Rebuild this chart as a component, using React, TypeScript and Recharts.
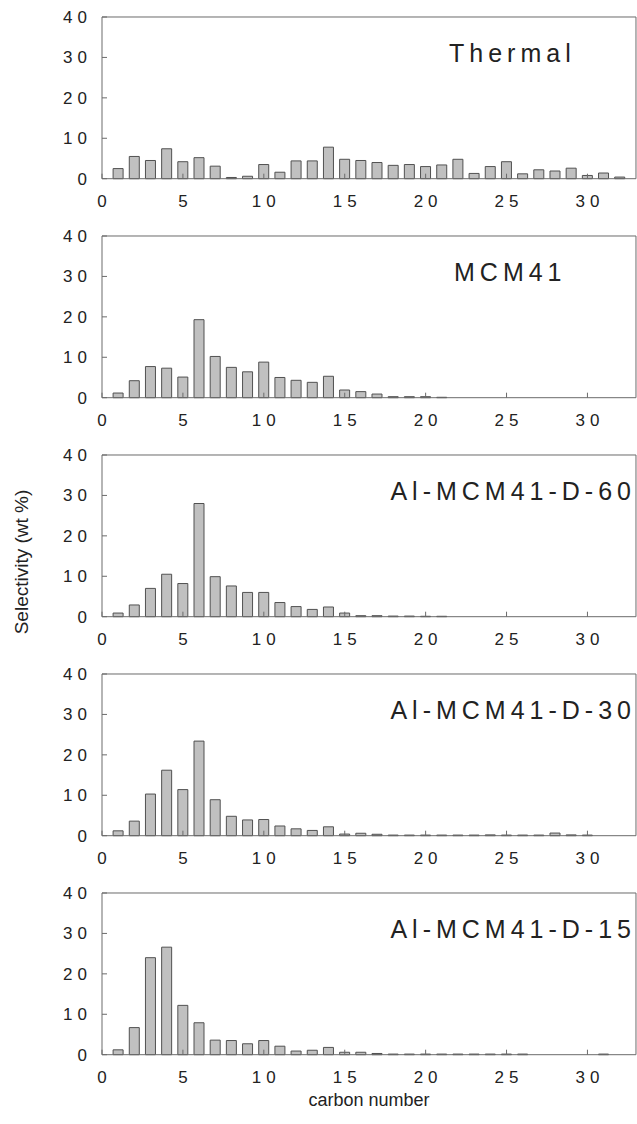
import React from 'react';
import { BarChart, Bar, XAxis, YAxis } from 'recharts';

const carbonNumbers = [1, 2, 3, 4, 5, 6, 7, 8, 9, 10, 11, 12, 13, 14, 15, 16, 17, 18, 19, 20, 21, 22, 23, 24, 25, 26, 27, 28, 29, 30, 31, 32];

const thermal = [2.5, 5.5, 4.5, 7.4, 4.2, 5.2, 3.1, 0.3, 0.6, 3.5, 1.6, 4.4, 4.4, 7.8, 4.8, 4.5, 4.0, 3.3, 3.5, 3.0, 3.4, 4.8, 1.3, 3.0, 4.2, 1.2, 2.2, 1.9, 2.6, 0.8, 1.4, 0.4];
const mcm41 = [1.15, 4.2, 7.7, 7.3, 5.1, 19.3, 10.2, 7.5, 6.4, 8.8, 5.0, 4.3, 3.8, 5.3, 1.9, 1.5, 0.9, 0.25, 0.25, 0.25, 0.1, 0, 0, 0, 0, 0, 0, 0, 0, 0, 0, 0];
const alD60 = [0.9, 2.9, 7.0, 10.5, 8.2, 28.0, 9.9, 7.6, 6.0, 6.0, 3.5, 2.5, 1.8, 2.4, 0.9, 0.25, 0.25, 0.15, 0.15, 0.1, 0.1, 0, 0, 0, 0, 0, 0, 0, 0, 0, 0, 0];
const alD30 = [1.2, 3.6, 10.3, 16.2, 11.4, 23.4, 8.9, 4.8, 3.9, 4.0, 2.4, 1.7, 1.3, 2.2, 0.4, 0.6, 0.35, 0.15, 0.15, 0.15, 0.15, 0.15, 0.15, 0.2, 0.15, 0.15, 0.15, 0.65, 0.2, 0.15, 0, 0];
const alD15 = [1.2, 6.7, 24.0, 26.6, 12.2, 7.9, 3.6, 3.5, 2.7, 3.5, 2.1, 0.9, 1.1, 1.8, 0.6, 0.6, 0.3, 0.15, 0.15, 0.15, 0.15, 0.15, 0.15, 0.15, 0.15, 0.15, 0, 0, 0, 0, 0.15, 0];

const panelTitles = ['Thermal', 'MCM41', 'Al-MCM41-D-60', 'Al-MCM41-D-30', 'Al-MCM41-D-15'];
const panelSeries = [thermal, mcm41, alD60, alD30, alD15];

const xTicks = [0, 5, 10, 15, 20, 25, 30];
const yTicks = [0, 10, 20, 30, 40];
const xDomain = [0, 33];
const yDomain = [0, 40];

const FONT = '"Liberation Sans", Arial, sans-serif';
const AXIS = '#6a6a6a';
const TEXT = '#222';

const PLOT_TOP = 17.3;
const PLOT_H = 161.7;
const PITCH = 219;
const PLOT_LEFT = 102;
const CHART_W = 637;
const M_TOP = 10;
const M_BOTTOM = 40;
const CHART_H = M_TOP + PLOT_H + M_BOTTOM;
const X_AXIS_H = 30;
const Y_AXIS_W = 60;

const XTick = (props: any) => {
  const { x, y, payload } = props;
  return (
    <text x={x + 2.5} y={y + 14} textAnchor="middle" fill={TEXT} fontSize={17} fontFamily={FONT} style={{ letterSpacing: '5px' }}>
      {payload.value}
    </text>
  );
};

const YTick = (props: any) => {
  const { x, y, payload } = props;
  return (
    <text x={x + 5} y={y + 6} textAnchor="end" fill={TEXT} fontSize={17} fontFamily={FONT} style={{ letterSpacing: '5px' }}>
      {payload.value}
    </text>
  );
};

function Panel({ values, index }: { values: number[]; index: number }) {
  const data = carbonNumbers.map((c, i) => ({ c, v: values[i] }));
  const top = PLOT_TOP + PITCH * index - M_TOP;
  return (
    <div style={{ position: 'absolute', left: 0, top, width: CHART_W, height: CHART_H }}>
      <BarChart
        width={CHART_W}
        height={CHART_H}
        data={data}
        margin={{ top: M_TOP - 1, right: 0, left: PLOT_LEFT - Y_AXIS_W, bottom: M_BOTTOM - X_AXIS_H }}
      >
        <XAxis xAxisId="b" type="number" dataKey="c" domain={xDomain} ticks={xTicks} allowDataOverflow height={X_AXIS_H} tickSize={-5} tickMargin={19} stroke={AXIS} tick={<XTick />} interval={0} />
        <XAxis xAxisId="t" orientation="top" type="number" dataKey="c" domain={xDomain} allowDataOverflow height={1} tick={false} tickLine={false} stroke={AXIS} />
        <YAxis yAxisId="l" type="number" domain={yDomain} ticks={yTicks} width={Y_AXIS_W} tickSize={-5} tickMargin={20} stroke={AXIS} tick={<YTick />} interval={0} />
        <YAxis yAxisId="r" orientation="right" type="number" domain={yDomain} width={1} tick={false} tickLine={false} stroke={AXIS} />
        <Bar xAxisId="b" yAxisId="l" dataKey="v" fill="#c0c0c0" stroke="#505050" strokeWidth={1} barSize={10} isAnimationActive={false} />
      </BarChart>
    </div>
  );
}

const TITLE_LS = 5;

export default function App() {
  return (
    <div style={{ position: 'absolute', left: 0, top: 0, width: 637, height: 1124, background: '#fff', overflow: 'hidden' }}>
      {panelSeries.map((s, i) => (
        <Panel key={i} values={s} index={i} />
      ))}
      <svg width={637} height={1124} style={{ position: 'absolute', left: 0, top: 0, pointerEvents: 'none' }}>
        {panelTitles.map((t, i) => {
          const y = PLOT_TOP + PITCH * i + 45;
          if (i < 2) {
            return (
              <text key={t} x={i === 0 ? 449 : 454} y={y} fontSize={25} fontFamily={FONT} fill={TEXT} style={{ letterSpacing: '5px' }}>
                {t}
              </text>
            );
          }
          return (
            <text key={t} x={631 + TITLE_LS} y={y} textAnchor="end" fontSize={25} fontFamily={FONT} fill={TEXT} style={{ letterSpacing: `${TITLE_LS}px` }}>
              {t}
            </text>
          );
        })}
        <text x={0} y={0} transform="translate(28 562) rotate(-90)" textAnchor="middle" fontSize={19} fontFamily={FONT} fill={TEXT}>
          Selectivity (wt %)
        </text>
        <text x={369} y={1106} textAnchor="middle" fontSize={18} fontFamily={FONT} fill={TEXT}>
          carbon number
        </text>
      </svg>
    </div>
  );
}
